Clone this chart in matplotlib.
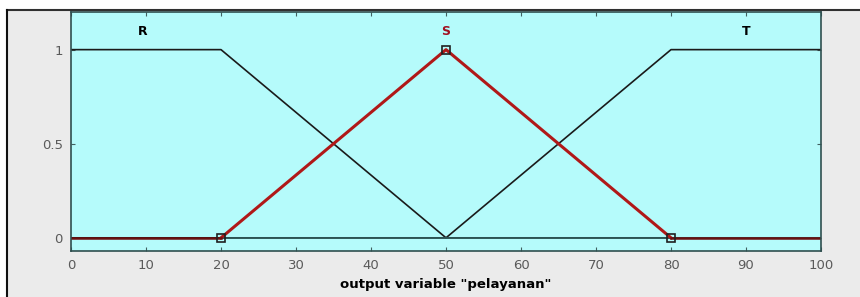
import matplotlib.pyplot as plt
from matplotlib.lines import Line2D
from matplotlib.patches import Rectangle

# Data: membership functions of output "pelayanan"
x_r = [0, 20, 50, 100]
y_r = [1, 1, 0, 0]
x_s = [0, 20, 50, 80, 100]
y_s = [0, 0, 1, 0, 0]
x_t = [0, 50, 80, 100]
y_t = [0, 0, 1, 1]
s_vertices = [20, 50, 80]
s_vertex_vals = [0, 1, 0]
labels = ["R", "S", "T"]
label_x = [9.5, 50, 90]

W, H = 860, 297
fig = plt.figure(figsize=(W / 100, H / 100), dpi=100)
fig.patch.set_facecolor("white")

# gray panel with dark frame line (top and left)
fig.add_artist(Rectangle((8 / W, 0), 1, 1 - 10 / H, transform=fig.transFigure,
                         facecolor="#ebebeb", edgecolor="none", zorder=-5))
fig.add_artist(Line2D([7 / W, 1], [1 - 10 / H, 1 - 10 / H], transform=fig.transFigure,
                      color="#303030", lw=1.5))
fig.add_artist(Line2D([7 / W, 7 / W], [0, 1 - 10 / H], transform=fig.transFigure,
                      color="#101010", lw=1.5))

ax = fig.add_axes([71 / W, 1 - 251 / H, (821 - 71) / W, (251 - 12) / H])
ax.set_facecolor("#b5fbfb")

ax.plot(x_r, y_r, color="#1a1a1a", lw=1.2)
ax.plot(x_t, y_t, color="#1a1a1a", lw=1.2)
ax.plot([20, 100], [0, 0], color="#2f5a5a", lw=1.3)
# highlighted S in red
ax.plot(s_vertices, s_vertex_vals, color="#b01818", lw=2.2)
ax.plot([0, 20], [0, 0], color="#6a1010", lw=1.8)
ax.plot([80, 100], [0, 0], color="#6a1010", lw=1.8)
ax.plot(s_vertices, s_vertex_vals, ls="none", marker="s", ms=6,
        mfc="none", mec="#202020", mew=1.2, clip_on=False)

for lab, lx in zip(labels, label_x):
    ax.text(lx, 1.095, lab, ha="center", va="center", fontsize=9, fontweight="bold",
            color="#a01020" if lab == "S" else "black")

ax.set_xlim(0, 100)
ax.set_ylim(-0.07, 1.2)
ax.set_xticks(range(0, 101, 10))
ax.set_yticks([0, 0.5, 1])
ax.set_yticklabels(["0", "0.5", "1"])
ax.tick_params(direction="in", top=True, right=True, length=3, color="#406060",
               labelsize=9.5, labelcolor="#5a5a5a", pad=6)
for sp in ax.spines.values():
    sp.set_color("#2f4f4f")
    sp.set_linewidth(1.2)

ax.set_xlabel('output variable "pelayanan"', fontsize=9.5, fontweight="bold", labelpad=4)

fig.savefig("out.png", dpi=100, facecolor=fig.get_facecolor())
